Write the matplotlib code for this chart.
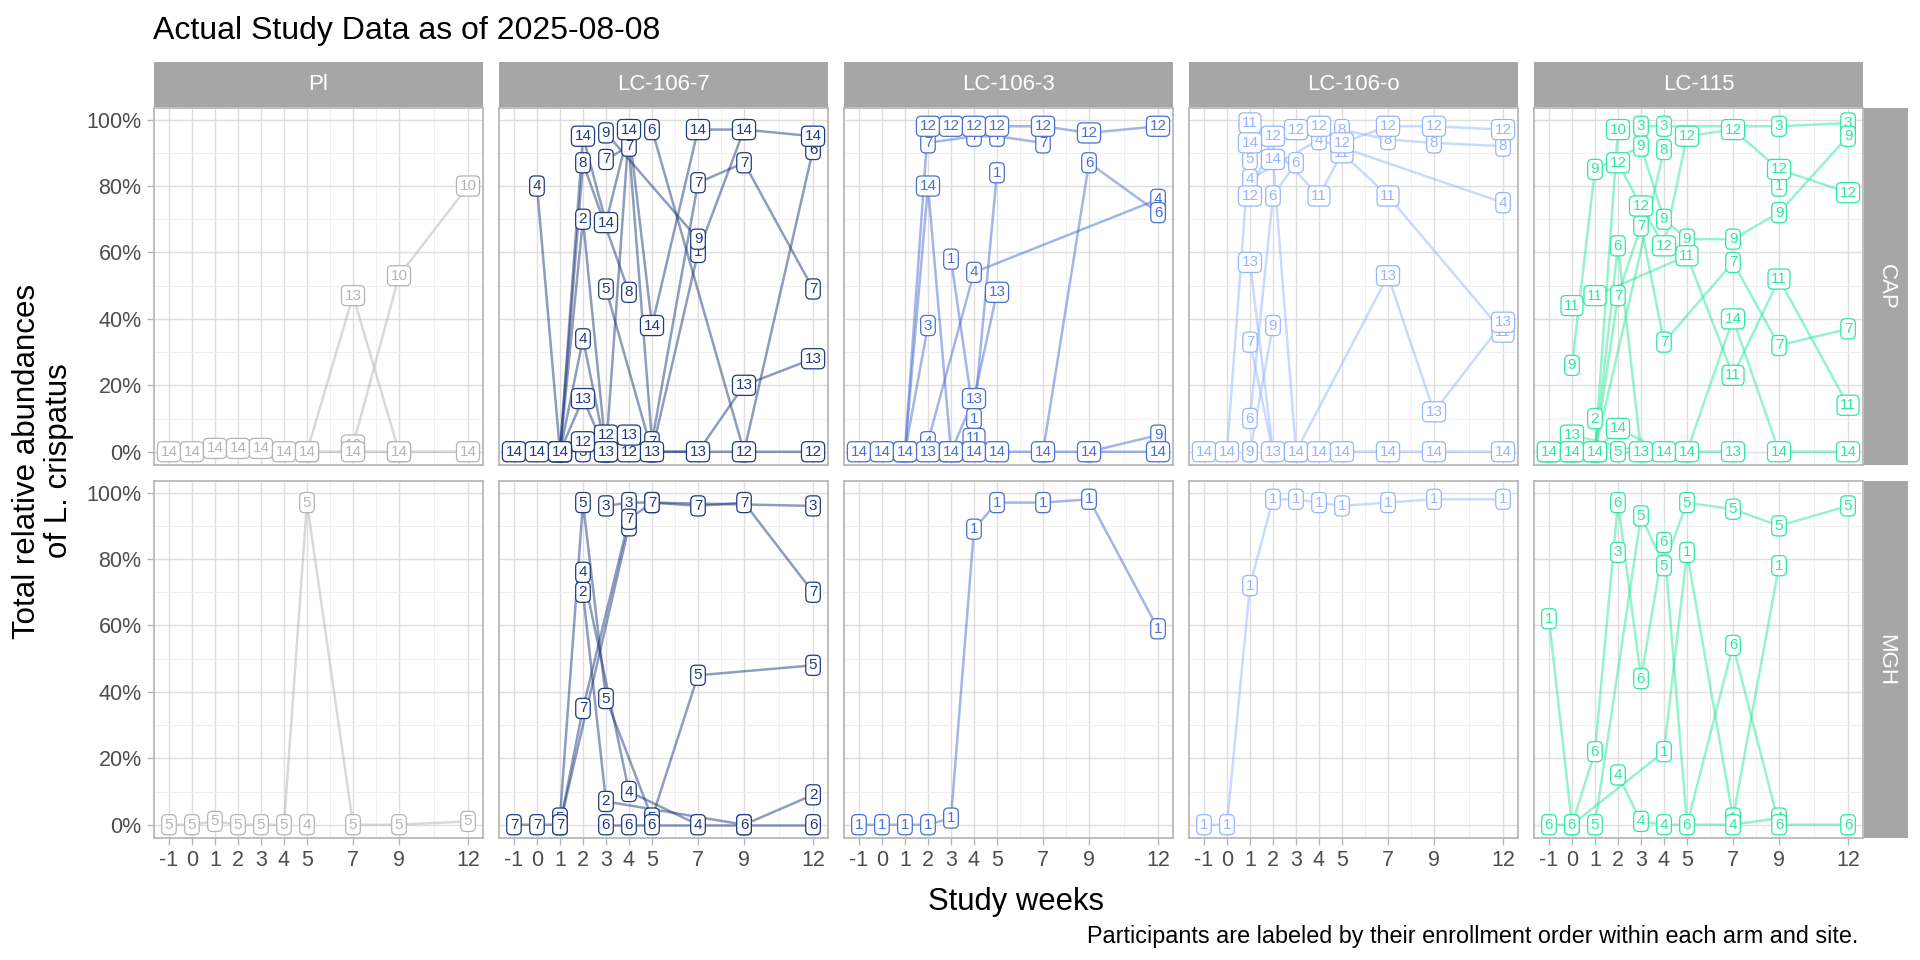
import matplotlib
matplotlib.use("Agg")
import matplotlib.pyplot as plt
from matplotlib.ticker import PercentFormatter

plt.rcParams['font.family'] = ['Liberation Sans', 'DejaVu Sans']
plt.rcParams['axes.unicode_minus'] = False

N = None
WEEKS = [-1, 0, 1, 2, 3, 4, 5, 7, 9, 12]
ARMS = ["Pl", "LC-106-7", "LC-106-3", "LC-106-o", "LC-115"]
SITES = ["CAP", "MGH"]

# participant id -> relative abundance (%) at each week in WEEKS
PL_CAP = {
    10: [N, N, N, N, N, N, N, 2, 53, 80],
    13: [N, N, N, N, N, N, 0, 47, 0, N],
    14: [0, 0, 1, 1, 1, 0, 0, 0, 0, 0],
}
PL_MGH = {
    4: [N, N, N, N, N, N, 0, N, N, N],
    5: [0, 0, 1, 0, 0, 0, 97, 0, 0, 1],
}
LC7_CAP = {
    1: [N, N, N, N, N, N, 0, 60, 97, N],
    2: [N, N, 0, 70, 0, 97, N, N, N, N],
    3: [N, N, N, 0, N, N, N, N, N, N],
    4: [N, 80, 0, 34, 0, N, N, N, N, N],
    5: [N, N, N, N, 49, N, 0, N, N, N],
    6: [N, N, N, N, N, N, 97, N, 0, 91],
    7: [N, N, N, N, 88, 92, 3, 81, 87, 49],
    8: [N, N, 0, 87, N, 48, N, N, N, N],
    9: [N, N, N, N, 96, N, N, 64, N, N],
    11: [N, N, N, N, 0, N, N, N, N, N],
    12: [N, N, 0, 3, 5, 0, N, N, 0, 0],
    13: [N, N, 0, 16, 0, 5, 0, 0, 20, 28],
    14: [0, 0, 0, 95, 69, 97, 38, 97, 97, 95],
}
LC7_MGH = {
    1: [N, N, 0, N, N, 90, N, N, N, N],
    2: [N, N, N, 70, 7, N, N, N, 0, 9],
    3: [N, N, N, N, 96, 97, 97, N, N, 96],
    4: [N, N, N, 76, N, 10, N, 0, N, N],
    5: [N, N, 2, 97, 38, N, 2, 45, N, 48],
    6: [N, N, N, N, 0, 0, 0, N, 0, 0],
    7: [0, 0, 0, 35, N, 92, 97, 96, 97, 70],
}
LC3_CAP = {
    1: [N, N, N, N, 58, 10, 84, N, N, N],
    3: [N, N, 0, 38, N, N, N, N, N, N],
    4: [N, N, N, 3, N, 54, N, N, N, 76],
    6: [N, N, N, N, N, N, N, 0, 87, 72],
    7: [N, N, N, 93, N, 95, 95, 93, N, N],
    9: [N, N, N, N, N, N, N, N, 0, 5],
    11: [N, N, N, N, N, 4, N, N, N, N],
    12: [N, N, 0, 98, 98, 98, 98, 98, 96, 98],
    13: [N, N, N, 0, 0, 16, 48, N, N, N],
    14: [0, 0, 0, 80, 0, 0, 0, 0, 0, 0],
}
LC3_MGH = {
    1: [0, 0, 0, 0, 2, 89, 97, 97, 98, 59],
}
LCO_CAP = {
    2: [N, N, 0, N, N, N, N, N, N, N],
    4: [N, N, 82, N, N, 94, N, N, N, 75],
    5: [N, N, 88, N, N, N, N, N, N, N],
    6: [N, N, 10, 77, 87, N, N, N, N, N],
    7: [N, N, 33, 0, N, N, N, N, N, N],
    8: [N, N, N, N, N, N, 97, 94, 93, 92],
    9: [N, N, 0, 38, N, N, N, N, N, N],
    11: [N, N, 99, N, N, 77, 90, 77, N, 36],
    12: [N, N, 77, 95, 97, 98, 93, 98, 98, 97],
    13: [N, N, 57, 0, 0, N, N, 53, 12, 39],
    14: [0, 0, 93, 88, 0, 0, 0, 0, 0, 0],
}
LCO_MGH = {
    1: [0, 0, 72, 98, 98, 97, 96, 97, 98, 98],
}
L115_CAP = {
    1: [N, N, N, N, N, N, N, N, 80, N],
    2: [N, N, 10, N, N, N, N, N, N, N],
    3: [N, N, N, N, 98, 98, N, N, 98, 99],
    5: [N, N, N, 0, N, N, 0, N, N, N],
    6: [0, N, 0, 62, 0, N, N, N, N, N],
    7: [N, N, 0, 47, 68, 33, N, 57, 32, 37],
    8: [N, 0, 0, N, N, 91, N, N, N, N],
    9: [N, 26, 85, N, 92, 70, 64, 64, 72, 95],
    10: [0, 0, 0, 97, N, N, N, N, N, N],
    11: [N, 44, 47, N, N, N, 59, 23, 52, 14],
    12: [N, N, N, 87, 74, 62, 95, 97, 85, 78],
    13: [N, 5, N, N, 0, N, N, 0, N, N],
    14: [0, 0, 0, 7, N, 0, 0, 40, 0, 0],
}
L115_MGH = {
    1: [62, 0, N, N, N, 22, 82, 2, 78, N],
    3: [N, N, N, 82, N, N, N, N, N, N],
    4: [N, N, N, 15, 1, 0, N, 0, 2, N],
    5: [N, N, 0, N, 93, 78, 97, 95, 90, 96],
    6: [0, 0, 22, 97, 44, 85, 0, 54, 0, 0],
}

PANELS = {
    ("Pl", "CAP"): PL_CAP, ("Pl", "MGH"): PL_MGH,
    ("LC-106-7", "CAP"): LC7_CAP, ("LC-106-7", "MGH"): LC7_MGH,
    ("LC-106-3", "CAP"): LC3_CAP, ("LC-106-3", "MGH"): LC3_MGH,
    ("LC-106-o", "CAP"): LCO_CAP, ("LC-106-o", "MGH"): LCO_MGH,
    ("LC-115", "CAP"): L115_CAP, ("LC-115", "MGH"): L115_MGH,
}
ARM_COLORS = {
    "Pl": "#B4B4B4",
    "LC-106-7": "#1F3A7D",
    "LC-106-3": "#4A6FD3",
    "LC-106-o": "#97B5FF",
    "LC-115": "#2EE89E",
}

# layout in pixels of a 1920x960 canvas
W, H = 1920, 960
LEFT, PW, GAP = 154, 329, 16
ROW_TOP = [108, 481]
PH = 357
STRIP = 45


def rect(x, y, w, h):
    return [x / W, 1 - (y + h) / H, w / W, h / H]


def strip_axes(r):
    sax = fig.add_axes(r)
    sax.set_facecolor("#A6A6A6")
    sax.set_xticks([])
    sax.set_yticks([])
    for sp in sax.spines.values():
        sp.set_visible(False)
    return sax


fig = plt.figure(figsize=(19.2, 9.6), dpi=100)
fig.patch.set_facecolor("white")

for r, site in enumerate(SITES):
    for c, arm in enumerate(ARMS):
        x0 = LEFT + c * (PW + GAP)
        y0 = ROW_TOP[r]
        ax = fig.add_axes(rect(x0, y0, PW, PH))
        color = ARM_COLORS[arm]
        data = PANELS[(arm, site)]

        # lines first, then labels on top (higher ids drawn last)
        for pid in sorted(data):
            vals = data[pid]
            xs = [w for w, v in zip(WEEKS, vals) if v is not None]
            ys = [v for v in vals if v is not None]
            ax.plot(xs, ys, color=color, alpha=0.5, lw=1.8, zorder=3,
                    solid_capstyle="round")
        for pid in sorted(data):
            for w, v in zip(WEEKS, data[pid]):
                if v is None:
                    continue
                ax.text(w, v, str(pid), color=color, fontsize=11,
                        ha="center", va="center", zorder=4, clip_on=True,
                        bbox=dict(boxstyle="round,pad=0.2,rounding_size=0.3",
                                  fc="white", ec=color, lw=0.9))

        ax.set_xlim(-1.65, 12.65)
        ax.set_ylim(-4, 103.5)
        ax.set_xticks(WEEKS)
        ax.set_xticks([6, 8, 10.5], minor=True)
        ax.set_yticks([0, 20, 40, 60, 80, 100])
        ax.set_yticks([10, 30, 50, 70, 90], minor=True)
        ax.yaxis.set_major_formatter(PercentFormatter(xmax=100, decimals=0))
        ax.grid(True, which="major", color="#DEDEDE", lw=1.0, zorder=0)
        ax.grid(True, which="minor", color="#EEEEEE", lw=0.6, zorder=0)
        ax.set_axisbelow(True)
        for sp in ax.spines.values():
            sp.set_color("#B3B3B3")
            sp.set_linewidth(1.2)
        ax.tick_params(which="major", length=5, width=0.9, color="#B3B3B3",
                       labelcolor="#4D4D4D", labelsize=15.5, pad=4)
        ax.tick_params(which="minor", length=0)
        if r == 0:
            ax.tick_params(axis="x", which="major", bottom=False, labelbottom=False)
        if c > 0:
            ax.tick_params(axis="y", which="major", left=False, labelleft=False)

        if r == 0:
            sax = strip_axes(rect(x0, y0 - STRIP - 1, PW, STRIP))
            sax.text(0.5, 0.5, arm, color="white", fontsize=16,
                     ha="center", va="center", transform=sax.transAxes)
        if c == len(ARMS) - 1:
            sax = strip_axes(rect(x0 + PW + 1, y0, 44, PH))
            sax.text(0.5, 0.5, site, color="white", fontsize=16, rotation=-90,
                     ha="center", va="center", transform=sax.transAxes)

fig.text(153 / W, 1 - 39 / H, "Actual Study Data as of 2025-08-08",
         fontsize=23, ha="left", va="baseline", color="black")
fig.text(43 / W, 1 - 461 / H, "Total relative abundances\nof L. crispatus",
         fontsize=22.5, rotation=90, ha="center", va="center",
         multialignment="center", linespacing=1.05, color="black")
fig.text(1016 / W, 1 - 902 / H, "Study weeks", fontsize=22.3,
         ha="center", va="center", color="black")
fig.text(1858 / W, 1 - 936 / H,
         "Participants are labeled by their enrollment order within each arm and site.",
         fontsize=16.8, ha="right", va="center", color="black")

fig.savefig("out.png", dpi=100)
